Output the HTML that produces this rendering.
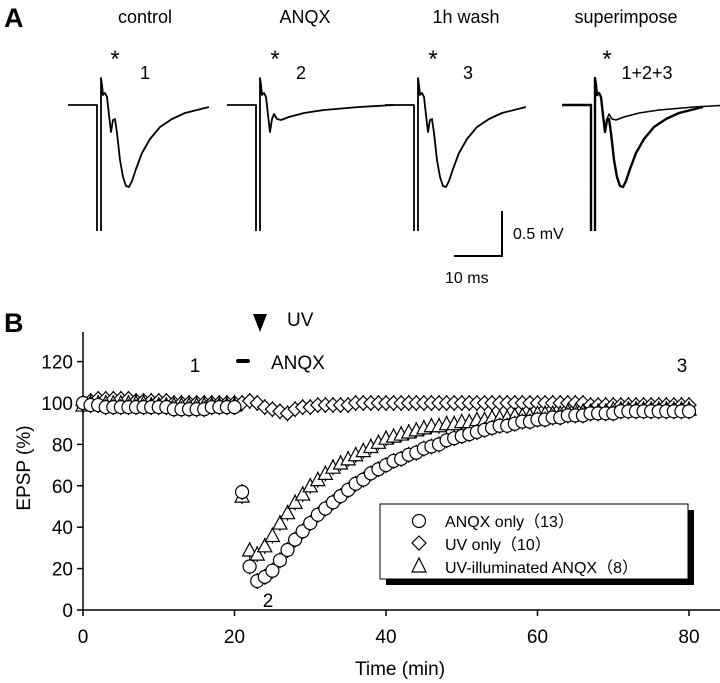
<!DOCTYPE html>
<html><head><meta charset="utf-8"><style>
html,body{margin:0;padding:0;background:#fff;}
svg{display:block;font-family:"Liberation Sans",sans-serif;}
</style></head><body>
<svg id="fig" width="720" height="683" viewBox="0 0 720 683" xmlns="http://www.w3.org/2000/svg">
<g>
<text x="4" y="27" font-size="27" font-weight="bold">A</text>
<text x="145" y="23" font-size="18" text-anchor="middle">control</text>
<text x="305" y="23" font-size="18" text-anchor="middle">ANQX</text>
<text x="466" y="23" font-size="18" text-anchor="middle">1h wash</text>
<text x="626" y="23" font-size="18" text-anchor="middle">superimpose</text>
<text x="115" y="67" font-size="24" text-anchor="middle">*</text>
<text x="275" y="67" font-size="24" text-anchor="middle">*</text>
<text x="433" y="67" font-size="24" text-anchor="middle">*</text>
<text x="607" y="67" font-size="24" text-anchor="middle">*</text>
<text x="145" y="79" font-size="18" text-anchor="middle">1</text>
<text x="301" y="79" font-size="18" text-anchor="middle">2</text>
<text x="468" y="79" font-size="18" text-anchor="middle">3</text>
<text x="647" y="79" font-size="18" text-anchor="middle">1+2+3</text>
<g id="traces"></g>
<g stroke="#000" stroke-width="2" fill="none">
<path d="M502,211 V256 H454"/>
</g>
<text x="513" y="239" font-size="16">0.5 mV</text>
<text x="445" y="283" font-size="16">10 ms</text>
</g>
<g>
<text x="4" y="332" font-size="27" font-weight="bold">B</text>
<g id="axes"></g>
<g id="marks"></g>
<path d="M253,314 L267,314 L260,332 Z" fill="#000"/>
<text x="287" y="326" font-size="19">UV</text>
<rect x="236" y="359" width="14" height="4" rx="2" fill="#000"/>
<text x="271" y="369" font-size="19">ANQX</text>
<text x="195" y="372" font-size="19" text-anchor="middle">1</text>
<text x="682" y="372" font-size="19" text-anchor="middle">3</text>
<text x="268" y="607" font-size="19" text-anchor="middle">2</text>
<g>
<rect x="386" y="510" width="308" height="75" fill="#000"/>
<rect x="380" y="504" width="308" height="75" fill="#fff" stroke="#000" stroke-width="1"/>
<circle cx="419" cy="521" r="6.5" fill="#fff" stroke="#000" stroke-width="1.2"/>
<path d="M419,536 L426,543 L419,550 L412,543 Z" fill="#fff" stroke="#000" stroke-width="1.2"/>
<path d="M419,558 L426,572 L412,572 Z" fill="#fff" stroke="#000" stroke-width="1.2"/>
<text x="445" y="527" font-size="16">ANQX only（13）</text>
<text x="445" y="550" font-size="16">UV only（10）</text>
<text x="445" y="573" font-size="16">UV-illuminated ANQX（8）</text>
</g>
</g>
</svg>
<script>
// ---- Panel B data ----
const times = [0,1,2,3,4,5,6,7,8,9,10,11,12,13,14,15,16,17,18,19,20,21,22,23,24,25,26,27,28,29,30,31,32,33,34,35,36,37,38,39,40,41,42,43,44,45,46,47,48,49,50,51,52,53,54,55,56,57,58,59,60,61,62,63,64,65,66,67,68,69,70,71,72,73,74,75,76,77,78,79,80];
const anqxOnly = [100,99,99,98,98,98,98,98,98,98,98,98,97,97,97,97,97,98,98,98,98,57,21,14,16,19,24,29,34,38,42,46,49,52,55,58,61,63,66,68,70,72,73,75,76,78,79,80,82,83,84,85,86,87,88,89,89,90,91,91,92,92,93,93,94,94,94,95,95,95,95,96,96,96,96,96,96,96,96,96,96];
const uvOnly = [99,101,102,102,102,102,102,101,101,101,101,101,100,100,100,100,100,100,100,100,100,100,101,100,98,97,96,95,97,98,98,99,99,99,99,99,100,100,100,100,100,100,100,100,100,100,100,100,100,100,100,100,100,100,100,100,100,100,100,100,100,100,100,100,100,100,100,99,99,99,99,99,99,99,99,99,99,99,99,99,99];
const uvAnqx = [99,100,100,100,100,100,100,100,100,99,99,99,99,99,99,99,99,99,99,99,99,55,29,27,31,36,42,47,52,56,60,63,66,69,71,73,75,77,79,81,83,84,85,86,87,88,89,89,90,90,91,91,92,92,93,93,93,94,94,94,95,95,95,95,96,96,96,96,96,96,97,97,97,97,97,97,97,97,97,97,97];
const xTicks = [0,20,40,60,80];
const yTicks = [0,20,40,60,80,100,120];

const NS = "http://www.w3.org/2000/svg";
const X0 = 83, XS = 7.575, Y0 = 610, YS = 2.07;
function xs(v){return X0 + v*XS;}
function ys(v){return Y0 - v*YS;}
function mk(tag, attrs, parent){const e=document.createElementNS(NS,tag);for(const k in attrs)e.setAttribute(k,attrs[k]);parent.appendChild(e);return e;}

const axes = document.getElementById('axes');
const yAxis = mk('line',{x1:X0,y1:332,x2:X0,y2:Y0,stroke:'#000','stroke-width':1.5},axes);


const xAxis = mk('line',{x1:X0,y1:Y0,x2:720,y2:Y0,stroke:'#000','stroke-width':1.5},axes);


yTicks.forEach(t=>{
  const tk=mk('line',{x1:X0-6,y1:ys(t),x2:X0,y2:ys(t),stroke:'#000','stroke-width':1.5},axes);
  
  
  const lb=mk('text',{x:X0-10,y:ys(t)+7,'font-size':19,'text-anchor':'end'},axes);
  lb.textContent=t;
  
  
});
xTicks.forEach(t=>{
  const tk=mk('line',{x1:xs(t),y1:Y0,x2:xs(t),y2:Y0+6,stroke:'#000','stroke-width':1.5},axes);
  
  
  const lb=mk('text',{x:xs(t),y:Y0+33,'font-size':19,'text-anchor':'middle'},axes);
  lb.textContent=t;
  
  
});
const xt=mk('text',{x:400,y:675,'font-size':19,'text-anchor':'middle'},axes);
xt.textContent='Time (min)';


const yt=mk('text',{x:0,y:0,'font-size':19,'text-anchor':'middle',transform:'translate(30,468) rotate(-90)'},axes);
yt.textContent='EPSP (%)';



const marks=document.getElementById('marks');
function errbar(x,y,g){mk('line',{x1:x,y1:y-8,x2:x,y2:y+8,stroke:'#000','stroke-width':1.3},g);}
uvOnly.forEach((v,i)=>{
  const x=xs(times[i]), y=ys(v);
  errbar(x,y,marks);
  const d=mk('path',{d:`M${x},${y-7} L${x+7},${y} L${x},${y+7} L${x-7},${y} Z`,fill:'#fff',stroke:'#000','stroke-width':1.2},marks);
  
  
});
uvAnqx.forEach((v,i)=>{
  const x=xs(times[i]), y=ys(v);
  errbar(x,y,marks);
  const d=mk('path',{d:`M${x},${y-7} L${x+7},${y+6} L${x-7},${y+6} Z`,fill:'#fff',stroke:'#000','stroke-width':1.2},marks);
  
  
});
anqxOnly.forEach((v,i)=>{
  const x=xs(times[i]), y=ys(v);
  errbar(x,y,marks);
  const c=mk('circle',{cx:x,cy:y,r:6.5,fill:'#fff',stroke:'#000','stroke-width':1.2},marks);
  
  
});

// ---- Panel A traces (relative px offsets from stimulus) ----
const ctrlShape=[[1,126],[1,-27],[2,-20],[3,-10],[5,-12],[7,-8],[9,10],[11,27],[13,15],[15,14],[17,28],[20,55],[23,72],[26,81],[29,82],[32,76],[36,64],[42,48],[50,34],[60,22],[72,14],[85,8],[109,2]];
const anqxShape=[[1,126],[1,-27],[2,-20],[3,-10],[5,-12],[7,-8],[9,10],[11,27],[13,14],[15,9],[18,14],[22,15],[30,12],[45,8],[65,5],[100,2],[135,0]];
const tracesG=document.getElementById('traces');
function drawTrace(shape,sx,by,name,w){
  const pts=shape.map(q=>(sx+q[0])+','+(by+q[1])).join(' L');
  const d=`M${sx-32},${by} L${sx-3},${by} L${sx-3},${by+126} M${pts}`;
  const p=mk('path',{d:d,fill:'none',stroke:'#000','stroke-width':w||1.8,'stroke-linejoin':'round'},tracesG);
  
  
}
drawTrace(ctrlShape,100,105,'trace-control');
drawTrace(anqxShape,259,105,'trace-anqx');
drawTrace(ctrlShape,417,105,'trace-wash');
drawTrace(anqxShape,594,105,'trace-superimpose-anqx',1.5);
drawTrace(ctrlShape,594,105,'trace-superimpose-control',2.4);
</script>
</body></html>
